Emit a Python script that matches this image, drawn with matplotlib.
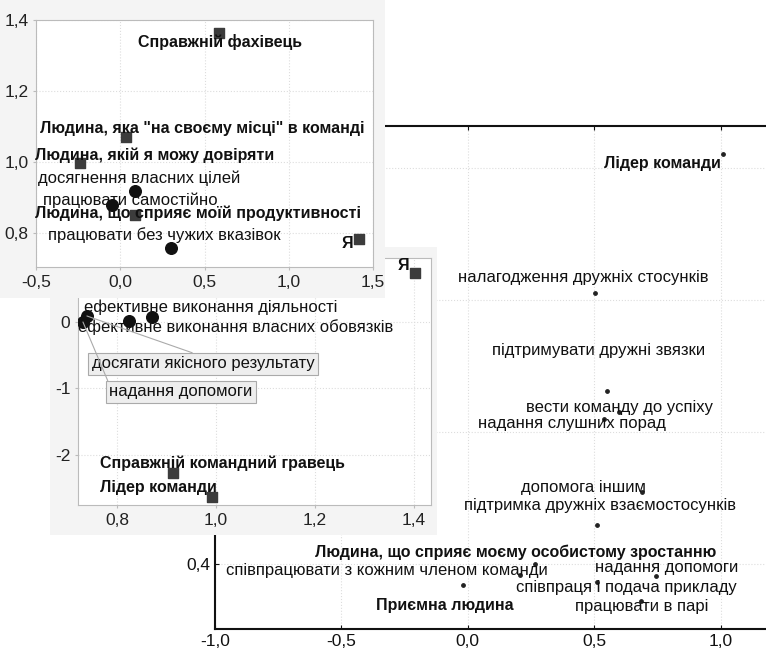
import matplotlib
matplotlib.use("Agg")
import matplotlib.pyplot as plt
from matplotlib.patches import Rectangle
from matplotlib.ticker import FuncFormatter

plt.rcParams['font.family'] = ['Liberation Sans', 'DejaVu Sans']
plt.rcParams['axes.unicode_minus'] = False

# ---------------- data ----------------
# top plot
top_sq_labels = ['Справжній фахівець', 'Людина, яка "на своєму місці" в команді',
                 'Людина, якій я можу довіряти', 'Людина, що сприяє моїй продуктивності', 'Я']
top_sq_x = [0.586, 0.034, -0.239, 0.088, 1.417]
top_sq_y = [1.363, 1.070, 0.997, 0.851, 0.783]
top_ci_labels = ['досягнення власних цілей', 'працювати самостійно', 'працювати без чужих вказівок']
top_ci_x = [0.088, -0.049, 0.301]
top_ci_y = [0.918, 0.879, 0.758]
top_xticks = [-0.5, 0.0, 0.5, 1.0, 1.5]
top_yticks = [0.8, 1.0, 1.2, 1.4]

# middle plot
mid_sq_labels = ['Я', 'Справжній командний гравець', 'Лідер команди']
mid_sq_x = [1.402, 0.913, 0.992]
mid_sq_y = [0.737, -2.27, -2.63]
mid_ci_labels = ['ефективне виконання діяльності', 'ефективне виконання власних обовязків',
                 'досягати якісного результату', 'надання допомоги']
mid_ci_x = [0.871, 0.824, 0.739, 0.731]
mid_ci_y = [0.075, 0.015, 0.09, 0.0]
mid_ci_boxed = [False, False, True, True]
mid_xticks = [0.8, 1.0, 1.2, 1.4]
mid_yticks = [-2, -1, 0]

# back plot
back_labels = ['Лідер команди', 'налагодження дружніх стосунків', 'підтримувати дружні звязки',
               'вести команду до успіху', 'надання слушних порад', 'допомога іншим',
               'підтримка дружніх взаємостосунків', 'Людина, що сприяє моєму особистому зростанню',
               'співпрацювати з кожним членом команди', 'надання допомоги',
               'співпраця і подача прикладу', 'Приємна людина', 'працювати в парі']
back_x = [1.008, 0.502, 0.549, 0.597, 0.541, 0.688, 0.510, 0.265, 0.206, 0.743, 0.510, -0.020, 0.684]
back_y = [1.020, 0.811, 0.662, 0.630, 0.619, 0.510, 0.459, 0.400, 0.383, 0.382, 0.373, 0.368, 0.344]
back_bold = [True, False, False, False, False, False, False, True, False, False, False, True, False]
back_xticks = [-1.0, -0.5, 0.0, 0.5, 1.0]
back_yticks = [0.4, 0.6, 0.8, 1.0]

# ---------------- layout (label offsets in pixels) ----------------
top_sq_off = [(1, -9), (76, 9), (75, 8), (63, 2), (-12, -4)]
top_ci_off = [(4, 13), (18, 5), (-7, 13)]
mid_sq_off = [(-12, 7), (49, 10), (-54, 9)]
mid_ci_off = [(58, 10), (107, -6), (116, -48), (98, -70)]
mid_ci_relpos = [None, None, (0.5, 1.0), (0.0, 1.0)]
back_off = [(-60, -9), (-11, 15), (-8, 41), (1, 5), (-33, -4), (-58, 4), (3, 20),
            (-19, 12), (-133, 5), (11, 9), (30, -5), (-18, -20), (1, -5)]

W, H = 766, 653
fig = plt.figure(figsize=(W / 100, H / 100), dpi=100)
fig.patch.set_facecolor('white')


def rect_px(l, t, r, b):
    return [l / W, 1 - b / H, (r - l) / W, (b - t) / H]


comma = FuncFormatter(lambda v, p: f"{v:.1f}".replace('.', ','))
FS = 12
BFS = 11.5
TFS = 12.5
SQ = 55
CI = 70

# ---------------- back plot ----------------
axb = fig.add_axes(rect_px(215, 126, 766, 629), zorder=0)
axb.set_xlim(-1.0, 1.18)
axb.set_ylim(0.302, 1.063)
axb.set_xticks(back_xticks)
axb.set_yticks(back_yticks)
axb.xaxis.set_major_formatter(comma)
axb.yaxis.set_major_formatter(comma)
axb.grid(True, color='#dddddd', ls=':', lw=0.8)
for s in ['left', 'bottom', 'top']:
    axb.spines[s].set_linewidth(1.5)
    axb.spines[s].set_color('#111111')
axb.spines['right'].set_visible(False)
axb.tick_params(direction='in', length=3, labelsize=TFS, colors='#111111', top=True)
axb.scatter(back_x, back_y, s=6, color='#222222', zorder=3)
for lab, x, y, o, b in zip(back_labels, back_x, back_y, back_off, back_bold):
    axb.annotate(lab, (x, y), xytext=o, textcoords='offset pixels', ha='center', va='center',
                 fontsize=BFS if b else FS, fontweight='bold' if b else 'normal', color='#111111')

# ---------------- middle plot ----------------
fig.add_artist(Rectangle((50 / W, 1 - 535 / H), (437 - 50) / W, (535 - 247) / H,
                         transform=fig.transFigure, facecolor='#f4f4f4', edgecolor='none', zorder=1))
axm = fig.add_axes(rect_px(78, 258, 431, 505), zorder=2)
axm.set_facecolor('white')
axm.set_xlim(0.721, 1.434)
axm.set_ylim(-2.752, 0.962)
axm.set_xticks(mid_xticks)
axm.set_yticks(mid_yticks)
axm.xaxis.set_major_formatter(comma)
axm.grid(True, color='#dddddd', ls=':', lw=0.8)
for s in axm.spines.values():
    s.set_color('#bbbbbb')
    s.set_linewidth(0.8)
axm.tick_params(direction='out', length=2, labelsize=TFS, colors='#222222')
axm.tick_params(color='#bbbbbb')
axm.scatter(mid_sq_x, mid_sq_y, marker='s', s=SQ, color='#3c3c3c', zorder=3)
axm.scatter(mid_ci_x, mid_ci_y, marker='o', s=CI, color='#111111', zorder=3)
for lab, x, y, o in zip(mid_sq_labels, mid_sq_x, mid_sq_y, mid_sq_off):
    axm.annotate(lab, (x, y), xytext=o, textcoords='offset pixels', ha='center', va='center',
                 fontsize=BFS, fontweight='bold', color='#111111')
for lab, x, y, o, bx, rp in zip(mid_ci_labels, mid_ci_x, mid_ci_y, mid_ci_off, mid_ci_boxed, mid_ci_relpos):
    if bx:
        axm.annotate(lab, (x, y), xytext=o, textcoords='offset pixels', ha='center', va='center',
                     fontsize=FS, color='#111111',
                     bbox=dict(boxstyle='square,pad=0.2', fc='#eeeeee', ec='#aaaaaa', lw=0.8),
                     arrowprops=dict(arrowstyle='-', color='#aaaaaa', lw=0.8, relpos=rp,
                                     shrinkA=0, shrinkB=0))
    else:
        axm.annotate(lab, (x, y), xytext=o, textcoords='offset pixels', ha='center', va='center',
                     fontsize=FS, color='#111111')

# ---------------- top plot ----------------
fig.add_artist(Rectangle((0, 1 - 298 / H), 385 / W, 298 / H,
                         transform=fig.transFigure, facecolor='#f4f4f4', edgecolor='none', zorder=3))
axt = fig.add_axes(rect_px(36, 20, 373, 267), zorder=4)
axt.set_facecolor('white')
axt.set_xlim(-0.5, 1.5)
axt.set_ylim(0.705, 1.4)
axt.set_xticks(top_xticks)
axt.set_yticks(top_yticks)
axt.xaxis.set_major_formatter(comma)
axt.yaxis.set_major_formatter(comma)
axt.grid(True, color='#dddddd', ls=':', lw=0.8)
for s in axt.spines.values():
    s.set_color('#bbbbbb')
    s.set_linewidth(0.8)
axt.tick_params(direction='out', length=2, labelsize=TFS, colors='#222222')
axt.tick_params(color='#bbbbbb')
axt.scatter(top_sq_x, top_sq_y, marker='s', s=SQ, color='#3c3c3c', zorder=3)
axt.scatter(top_ci_x, top_ci_y, marker='o', s=CI, color='#111111', zorder=3)
for lab, x, y, o in zip(top_sq_labels, top_sq_x, top_sq_y, top_sq_off):
    axt.annotate(lab, (x, y), xytext=o, textcoords='offset pixels', ha='center', va='center',
                 fontsize=BFS, fontweight='bold', color='#111111')
for lab, x, y, o in zip(top_ci_labels, top_ci_x, top_ci_y, top_ci_off):
    axt.annotate(lab, (x, y), xytext=o, textcoords='offset pixels', ha='center', va='center',
                 fontsize=FS, color='#111111')

fig.savefig('out.png', dpi=100)
